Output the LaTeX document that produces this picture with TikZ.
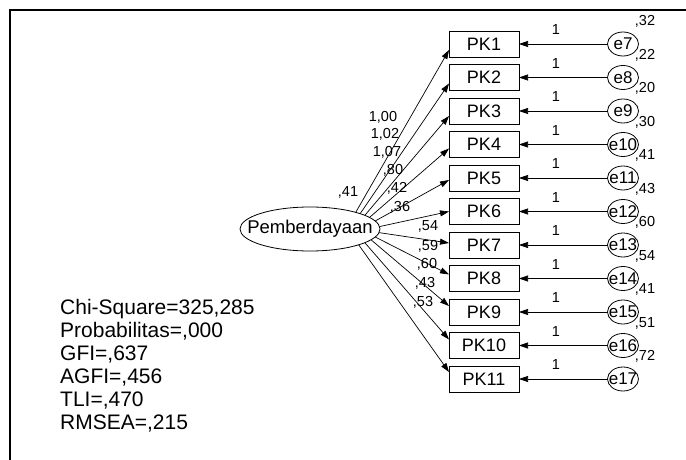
\documentclass[tikz,border=0pt]{standalone}
\usepackage{fontspec}
\setmainfont{Liberation Sans}
\usetikzlibrary{arrows.meta,shapes.geometric}
\begin{document}
\begin{tikzpicture}[x=1pt,y=-1pt,
 obs/.style={draw,line width=0.8pt,minimum width=70pt,minimum height=26pt,inner sep=0pt,outer sep=0pt,font=\fontsize{18}{18}\selectfont},
 err/.style={draw,ellipse,line width=0.8pt,minimum width=31pt,minimum height=24pt,inner sep=0pt,outer sep=0pt},
 lat/.style={draw,ellipse,line width=0.8pt,minimum width=140pt,minimum height=44pt,inner sep=0pt,outer sep=0pt},
 ltxt/.style={font=\fontsize{18.5}{18.5}\selectfont,inner sep=0pt},
 etxt/.style={font=\fontsize{17}{17}\selectfont,inner sep=0pt},
 num/.style={font=\fontsize{14.5}{14.5}\selectfont,inner sep=0pt},
 stat/.style={font=\fontsize{21}{23}\selectfont,inner sep=0pt,anchor=base west},
 conn/.style={line width=0.7pt,-{Triangle[length=9pt,width=6pt]}},
]
\useasboundingbox (0,0) rectangle (686,460);
\draw[line width=2pt] (10,460) -- (10,10.5) -- (686,10.5);

% latent variable
\node[lat] (E) at (310,229) {};
\node[ltxt] (Etxt) at (E) {Pemberdayaan};
\node[num] (vE) at (348,192) {,41};

% indicators, errors
\foreach \i/\v/\ang/\ys in {1/32/20/-6, 2/22/17/-6, 3/20/14/-5, 4/30/11/-4, 5/41/7/-2, 6/43/2/0, 7/60/-3/2, 8/54/-7/4, 9/41/-10/6, 10/51/-14/6, 11/72/-18/7}{
  \pgfmathsetmacro{\yy}{44+(\i-1)*33.5}
  \pgfmathtruncatemacro{\ei}{\i+6}
  \node[obs] (PK\i) at (484,\yy) {PK\i};
  \node[err] (e\ei) at (623,\yy) {};
  \node[etxt] (et\ei) at (e\ei) {e\ei};
  \draw[conn] (e\ei) -- (PK\i);
  \node[num] (one\i) at (556,\yy-14) {1};
  \node[num] (v\ei) at (645,\yy-22.5) {,\v};
  \draw[conn] (E.\ang) -- ([yshift=\ys pt]PK\i.west);
}

% loadings
\node[num] (l1) at (383,117) {1,00};
\node[num] (l2) at (385,134) {1,02};
\node[num] (l3) at (387,152) {1,07};
\node[num] (l4) at (393,170) {,80};
\node[num] (l5) at (397,188) {,42};
\node[num] (l6) at (400,207) {,36};
\node[num] (l7) at (428,226) {,54};
\node[num] (l8) at (428,246) {,59};
\node[num] (l9) at (427,264) {,60};
\node[num] (l10) at (425,283) {,43};
\node[num] (l11) at (423,302) {,53};

% fit statistics
\node[stat] (s1) at (60,314) {Chi-Square=325,285};
\node[stat] (s2) at (60,337) {Probabilitas=,000};
\node[stat] (s3) at (60,360) {GFI=,637};
\node[stat] (s4) at (60,383) {AGFI=,456};
\node[stat] (s5) at (60,406) {TLI=,470};
\node[stat] (s6) at (60,429) {RMSEA=,215};
\end{tikzpicture}
\end{document}
